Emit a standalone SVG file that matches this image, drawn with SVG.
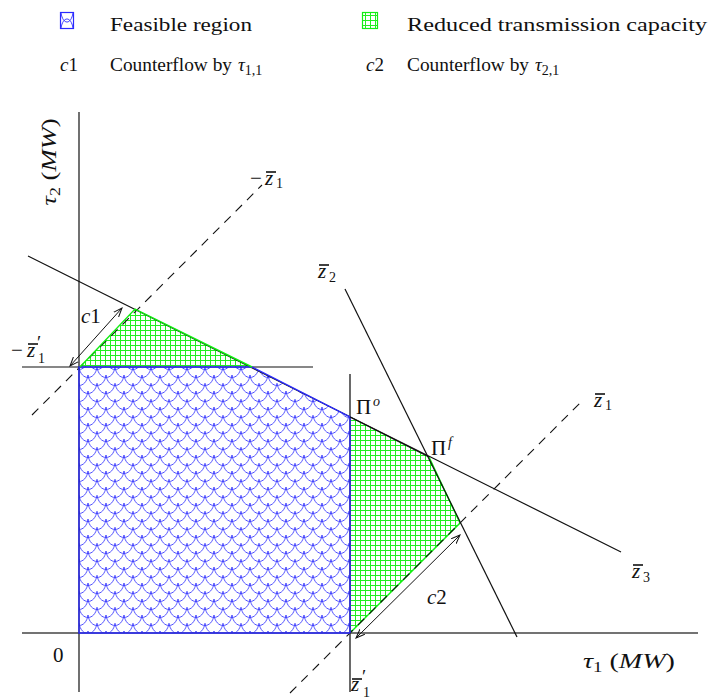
<svg xmlns="http://www.w3.org/2000/svg" width="712" height="698" viewBox="0 0 712 698">
<style>
text{font-family:"Liberation Serif","Times New Roman",serif;font-size:19px;fill:#111}
.m{font-size:21px}
.it{font-style:italic}
.sub{font-size:14px}
.ln{stroke:#111;stroke-width:1.2;fill:none}
.ax{stroke:#444;stroke-width:1.6;fill:none}
.dash{stroke:#111;stroke-width:1.1;stroke-dasharray:9 7;fill:none}
.bar{stroke:#111;stroke-width:1.6}
.blue{stroke:#2a2aff;stroke-width:1.4;fill:none}
.green{stroke:#11ee11;stroke-width:1.4;fill:none}
.arr{stroke:#111;stroke-width:1;fill:none;marker-start:url(#ah);marker-end:url(#ah)}
</style>
<defs>
<pattern id="scales" patternUnits="userSpaceOnUse" x="79" y="367" width="18" height="16">
<rect width="18" height="16" fill="#fff"/>
<path d="M-9,-8 C-7,6 7,6 9,-8 M9,-8 C11,6 25,6 27,-8 M0,0 C2,14 16,14 18,0 M-9,8 C-7,22 7,22 9,8 M9,8 C11,22 25,22 27,8" stroke="#3a3aff" stroke-width="0.9" fill="none"/>
</pattern>
<pattern id="grid" patternUnits="userSpaceOnUse" x="0" y="0" width="5" height="5">
<rect width="5" height="5" fill="#fff"/>
<path d="M0.5,0 V5 M0,0.5 H5" stroke="#22ee22" stroke-width="1" fill="none"/>
</pattern>
<marker id="ah" viewBox="0 0 10 8" refX="9" refY="4" markerWidth="10" markerHeight="8" markerUnits="userSpaceOnUse" orient="auto-start-reverse">
<path d="M0,0.5 L9,4 L0,7.5" stroke="#111" stroke-width="1" fill="none"/>
</marker>
</defs>

<g id="legend">
<g id="legend-feasible">
<rect x="60.5" y="12.5" width="13" height="16" fill="#fff" stroke="#2a2aff" stroke-width="1.2"/>
<path d="M61,13 C63,25 71,25 73,13 M61,28 C63,16 71,16 73,28" stroke="#3a3aff" stroke-width="1" fill="none"/>
<text x="110" y="31" textLength="142" lengthAdjust="spacingAndGlyphs">Feasible region</text>
</g>
<g id="legend-reduced">
<rect x="362.5" y="12.5" width="15" height="16" fill="url(#grid)" stroke="#11ee11" stroke-width="1.2"/>
<text x="407" y="31" textLength="300" lengthAdjust="spacingAndGlyphs">Reduced transmission capacity</text>
</g>
<g id="legend-c1">
<text x="60" y="71"><tspan class="it">c</tspan>1</text>
<text x="110" y="71" textLength="122" lengthAdjust="spacingAndGlyphs">Counterflow by</text>
<text x="238" y="71"><tspan class="it">τ</tspan><tspan class="sub" dy="4">1,1</tspan></text>
</g>
<g id="legend-c2">
<text x="366" y="71"><tspan class="it">c</tspan>2</text>
<text x="407" y="71" textLength="122" lengthAdjust="spacingAndGlyphs">Counterflow by</text>
<text x="535" y="71"><tspan class="it">τ</tspan><tspan class="sub" dy="4">2,1</tspan></text>
</g>
</g>

<g id="regions">
<polygon id="reduced-top" points="80,367 135,309 252,367" fill="url(#grid)"/>
<polygon id="reduced-right" points="350,417 429,457 460,523 350,633" fill="url(#grid)"/>
<polygon id="feasible" points="79,633 79,367 252,367 350,417 350,633" fill="url(#scales)"/>
<polyline class="green" points="429,457 460,523 350,633"/>
</g>

<g id="connectors">
<line class="ax" x1="22" y1="633" x2="698" y2="633"/>
<line class="ln" x1="79" y1="112" x2="79" y2="692"/>
<line class="ax" x1="350" y1="374" x2="350" y2="692"/>
<line class="ln" x1="22" y1="367" x2="313" y2="367"/>
<line id="z3" class="ln" x1="28" y1="256" x2="621" y2="552"/>
<line id="z2" class="ln" x1="345" y1="289" x2="517" y2="637"/>
<line id="neg-z1" class="dash" x1="32" y1="415" x2="262" y2="185"/>
<line id="z1" class="dash" x1="290" y1="693" x2="583" y2="400"/>
<line id="c1-arrow" class="arr" x1="70" y1="366" x2="122" y2="308"/>
<line id="c2-arrow" class="arr" x1="356" y1="638" x2="460" y2="535"/>
</g>

<g id="outlines">
<polyline class="blue" points="350,633 79,633 79,367 252,367 350,417 350,633"/>
<polyline class="green" points="80,367 135,309 252,367"/>
<line class="ln" x1="350" y1="417" x2="429" y2="457"/>
</g>

<g id="labels">
<g id="label-tau2"><text class="m" transform="translate(56,162) rotate(-90)" text-anchor="middle" textLength="87" lengthAdjust="spacingAndGlyphs"><tspan class="it">τ</tspan><tspan class="sub" dy="4">2</tspan><tspan dy="-4"> (</tspan><tspan class="it">MW</tspan>)</text></g>
<g id="label-neg-z1"><text class="m" x="250" y="185">−</text><text class="m it" x="265" y="185">z</text><text class="sub" x="276" y="188">1</text><line class="bar" x1="266" y1="172" x2="276" y2="172"/></g>
<g id="label-z2"><text class="m it" x="318" y="278">z</text><text class="sub" x="329" y="282">2</text><line class="bar" x1="319" y1="265" x2="329" y2="265"/></g>
<g id="label-c1"><text class="m" x="81" y="323"><tspan class="it">c</tspan>1</text></g>
<g id="label-neg-z1p"><text class="m" x="11" y="357">−</text><text class="m it" x="27" y="357">z</text><text x="37" y="349">′</text><text class="sub" x="38" y="363">1</text><line class="bar" x1="28" y1="344" x2="38" y2="344"/></g>
<g id="label-pio"><text class="m" x="356" y="414">Π</text><text class="sub it" x="373" y="406">o</text></g>
<g id="label-pif"><text class="m" x="431" y="455">Π</text><text class="sub it" x="448" y="447">f</text></g>
<g id="label-z1"><text class="m it" x="594" y="407">z</text><text class="sub" x="605" y="410">1</text><line class="bar" x1="595" y1="394" x2="605" y2="394"/></g>
<g id="label-z3"><text class="m it" x="632" y="578">z</text><text class="sub" x="643" y="582">3</text><line class="bar" x1="633" y1="565" x2="643" y2="565"/></g>
<g id="label-c2"><text class="m" x="427" y="604"><tspan class="it">c</tspan>2</text></g>
<g id="label-zero"><text class="m" x="53" y="662">0</text></g>
<g id="label-tau1"><text class="m" x="583" y="668" textLength="92" lengthAdjust="spacingAndGlyphs"><tspan class="it">τ</tspan><tspan class="sub" dy="4">1</tspan><tspan dy="-4"> (</tspan><tspan class="it">MW</tspan>)</text></g>
<g id="label-z1p"><text class="m it" x="351" y="691">z</text><text x="362" y="683">′</text><text class="sub" x="363" y="697">1</text><line class="bar" x1="352" y1="679" x2="362" y2="679"/></g>
</g>
</svg>
